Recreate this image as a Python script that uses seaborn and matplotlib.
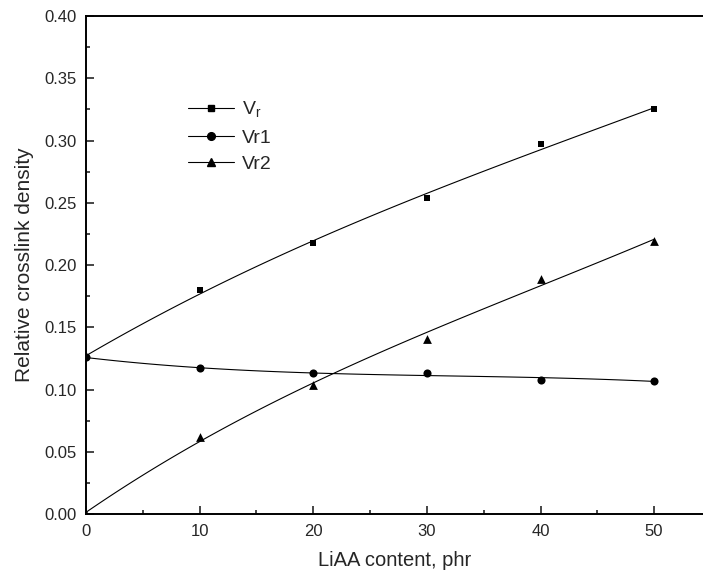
import numpy as np
import pandas as pd
import matplotlib
matplotlib.use("Agg")
import matplotlib.pyplot as plt
import seaborn as sns
from matplotlib.lines import Line2D
from matplotlib.ticker import MultipleLocator, FormatStrFormatter

# data
liaa = [0, 10, 20, 30, 40, 50]
vr = [0.126, 0.180, 0.218, 0.254, 0.297, 0.325]
vr1 = [0.126, 0.117, 0.113, 0.113, 0.108, 0.107]
vr2 = [0.0, 0.062, 0.104, 0.141, 0.189, 0.219]
labels = [r"V$_\mathregular{r}$", "Vr1", "Vr2"]
markers = ["s", "o", "^"]
sizes = [22, 34, 40]

sns.set_style("ticks")
plt.rcParams["font.family"] = ["Liberation Sans", "DejaVu Sans"]
plt.rcParams["mathtext.fontset"] = "custom"
plt.rcParams["mathtext.rm"] = "Liberation Sans"

fig = plt.figure(figsize=(7.03, 5.75), dpi=100)
ax = fig.add_axes([0.1223, 0.106, 0.8777, 0.866])

handles = []
for y, m, s, lab in zip([vr, vr1, vr2], markers, sizes, labels):
    df = pd.DataFrame({"x": liaa, "y": y})
    # smooth fitted curve, points on top
    sns.regplot(data=df, x="x", y="y", order=3, ci=None, scatter=False,
                truncate=True, ax=ax, line_kws=dict(color="black", lw=0.8))
    sns.scatterplot(data=df, x="x", y="y", marker=m, s=s, color="black",
                    edgecolor="black", linewidth=0, ax=ax, zorder=3)
    handles.append(Line2D([], [], color="black", lw=0.8, marker=m,
                          markersize=np.sqrt(s) * 0.95, label=lab))

ax.set_xlim(0, 54.3)
ax.set_ylim(0, 0.40)
ax.xaxis.set_major_locator(MultipleLocator(10))
ax.xaxis.set_minor_locator(MultipleLocator(5))
ax.yaxis.set_major_locator(MultipleLocator(0.05))
ax.yaxis.set_minor_locator(MultipleLocator(0.025))
ax.yaxis.set_major_formatter(FormatStrFormatter("%.2f"))

ax.tick_params(which="both", direction="in", top=False, right=False,
               width=1.2, labelsize=12)
ax.tick_params(which="major", length=6, pad=7)
ax.tick_params(which="minor", length=3)
ax.spines["right"].set_visible(False)
for sp in ["left", "bottom", "top"]:
    ax.spines[sp].set_linewidth(1.4)
    ax.spines[sp].set_color("black")

ax.set_xlabel("LiAA content, phr", fontsize=14.5, labelpad=9)
ax.set_ylabel("Relative crosslink density", fontsize=15, labelpad=7)

ax.legend(handles=handles, loc="upper left", bbox_to_anchor=(0.152, 0.847),
          frameon=False, fontsize=14, handlelength=2.4, handletextpad=0.4,
          labelspacing=0.45, borderaxespad=0)

fig.savefig("out.png", dpi=100)
